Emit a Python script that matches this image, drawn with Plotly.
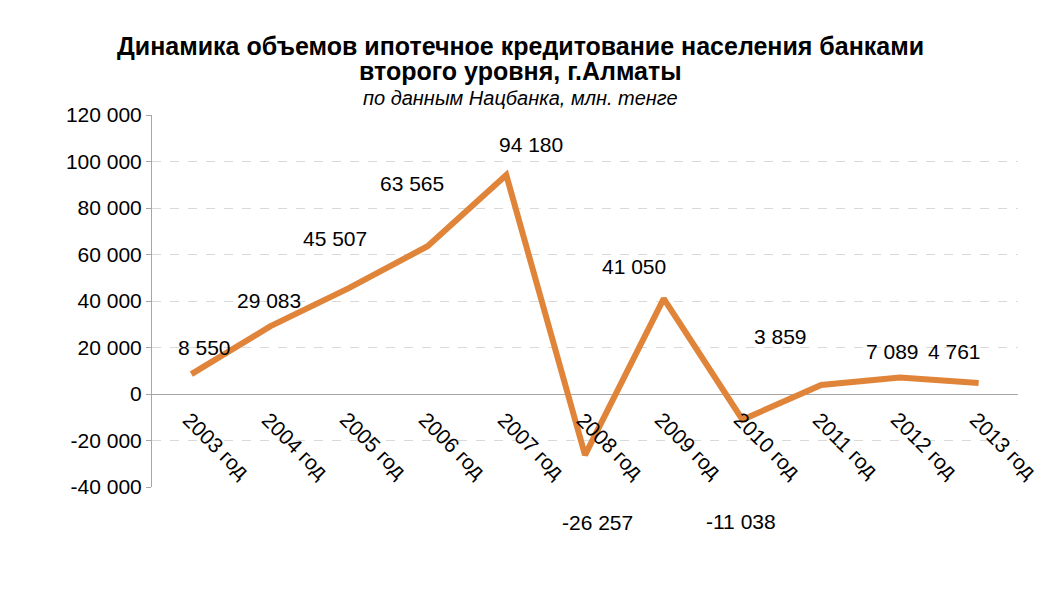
import plotly.graph_objects as go

years = ["2003 год", "2004 год", "2005 год", "2006 год", "2007 год", "2008 год",
         "2009 год", "2010 год", "2011 год", "2012 год", "2013 год"]
volumes = [8550, 29083, 45507, 63565, 94180, -26257, 41050, -11038, 3859, 7089, 4761]
y_ticks = [-40000, -20000, 0, 20000, 40000, 60000, 80000, 100000, 120000]

# label offsets in pixels (dx, dy downward) as placed in the original
label_shift = [(13, -27), (-1, -26), (-14, -50), (-16, -63), (25, -31), (12, 67),
               (-30, -32), (-1, 102), (-41, -49), (-7, -26), (-24, -31)]


def fmt(v):
    return f"{v:,}".replace(",", " ")


fig = go.Figure(go.Scatter(x=years, y=volumes, mode="lines",
                           line=dict(color="#E0843A", width=6)))

for yr, v, (dx, dy) in zip(years, volumes, label_shift):
    fig.add_annotation(x=yr, y=v, text=fmt(v), showarrow=False, xshift=dx, yshift=-dy,
                       font=dict(size=21, color="#000"))
for yr in years:
    fig.add_annotation(x=yr, y=0, text=yr, showarrow=False, textangle=45,
                       xshift=25, yshift=-51, font=dict(size=21, color="#000"))

fig.add_annotation(xref="paper", yref="paper", x=0.425, y=1.0, yshift=85, showarrow=False,
                   text="<b>Динамика объемов ипотечное кредитование населения банками</b>",
                   font=dict(size=25, color="#000"))
fig.add_annotation(xref="paper", yref="paper", x=0.425, y=1.0, yshift=60, showarrow=False,
                   text="<b>второго уровня, г.Алматы</b>",
                   font=dict(size=25, color="#000"))
fig.add_annotation(xref="paper", yref="paper", x=0.425, y=1.0, yshift=30, showarrow=False,
                   text="<i>по данным Нацбанка, млн. тенге</i>", font=dict(size=20, color="#000"))

fig.update_layout(
    width=1044, height=590, plot_bgcolor="white", paper_bgcolor="white",
    margin=dict(l=144, r=34, t=107, b=111), showlegend=False,
    font=dict(family="Liberation Sans, Arial", size=21, color="#000"),
    xaxis=dict(showticklabels=False, showgrid=False, zeroline=False, range=[-0.5, 10.5]),
    yaxis=dict(range=[-40000, 120000], tickvals=y_ticks, ticktext=[fmt(t) for t in y_ticks],
               showgrid=True, gridcolor="#D9D9D9", griddash="dash", gridwidth=1,
               zeroline=True, zerolinecolor="#A6A6A6", zerolinewidth=1,
               showline=True, linecolor="#A6A6A6", ticks="outside", ticklen=5,
               tickcolor="#A6A6A6"),
)
fig.write_html("out.html")
